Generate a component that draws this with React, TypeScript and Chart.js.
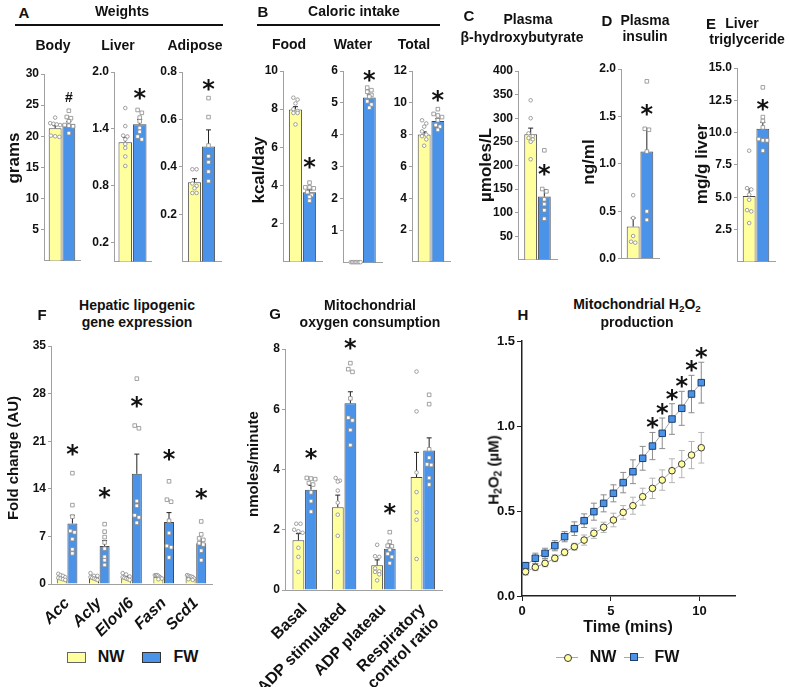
import React, { useEffect, useRef } from 'react';
import { Chart, registerables } from 'chart.js';

Chart.register(...registerables);

const FONT = '"Liberation Sans", Arial, Helvetica, sans-serif';
const STAR_FONT = '"DejaVu Sans", "Liberation Sans", sans-serif';
const NW_FILL = '#FFFF9E';
const FW_FILL = '#4A93E8';
const BAR_EDGE = '#4a4a4a';
const AXIS = '#a0a0a0';
const INK = '#111111';

// ---------------- Data ----------------
const seriesNames = ['NW', 'FW'];

// A – Weights
const bodyCats = ['Body'];
const bodyNW = [21.3];
const bodyFW = [22.0];
const bodySemNW = [0.4];
const bodySemFW = [0.35];
const bodyPtsNW = [[23.0, 22.1, 22.0, 21.9, 20.0, 20.1, 19.9, 21.8]];
const bodyPtsFW = [[24.1, 23.1, 22.9, 22.4, 21.7, 21.6, 21.8, 20.5]];
const bodyMark = [26.3];
const bodyTicks = [5, 10, 15, 20, 25, 30];

const liverCats = ['Liver'];
const liverNW = [1.26];
const liverFW = [1.45];
const liverSemNW = [0.05];
const liverSemFW = [0.05];
const liverPtsNW = [[1.62, 1.43, 1.33, 1.32, 1.29, 1.24, 1.2, 1.11, 1.01]];
const liverPtsFW = [[1.6, 1.57, 1.52, 1.48, 1.41, 1.37, 1.32, 1.29]];
const liverMark = [1.77];
const liverTicks = [0.2, 0.8, 1.4, 2.0];

const adiposeCats = ['Adipose'];
const adiposeNW = [0.335];
const adiposeFW = [0.486];
const adiposeSemNW = [0.015];
const adiposeSemFW = [0.07];
const adiposePtsNW = [[0.39, 0.39, 0.33, 0.32, 0.31, 0.29, 0.29]];
const adiposePtsFW = [[0.69, 0.61, 0.49, 0.445, 0.42, 0.38, 0.34]];
const adiposeMark = [0.745];
const adiposeTicks = [0.2, 0.4, 0.6, 0.8];

// B – Caloric intake
const foodCats = ['Food'];
const foodNW = [7.98];
const foodFW = [3.65];
const foodSemNW = [0.15];
const foodSemFW = [0.12];
const foodPtsNW = [[8.6, 8.5, 8.3, 8.0, 7.8, 7.8, 7.9, 7.2]];
const foodPtsFW = [[4.15, 3.9, 3.9, 3.85, 3.65, 3.5, 3.4, 3.2]];
const foodMark = [5.2];
const foodTicks = [2, 4, 6, 8, 10];

const waterCats = ['Water'];
const waterNW = [0.02];
const waterFW = [5.17];
const waterSemNW = [0];
const waterSemFW = [0.08];
const waterPtsNW = [[0.02, 0.02, 0.02, 0.02, 0.02, 0.02, 0.02, 0.02]];
const waterPtsFW = [[5.48, 5.4, 5.35, 5.25, 5.2, 5.05, 4.95, 4.85]];
const waterMark = [5.84];
const waterTicks = [1, 2, 3, 4, 5, 6];

const totalCats = ['Total'];
const totalNW = [8.0];
const totalFW = [8.85];
const totalSemNW = [0.17];
const totalSemFW = [0.15];
const totalPtsNW = [[8.9, 8.7, 8.5, 8.2, 8.0, 7.9, 7.7, 7.3]];
const totalPtsFW = [[9.6, 9.3, 9.2, 9.1, 8.9, 8.6, 8.5, 8.3]];
const totalMark = [10.4];
const totalTicks = [2, 4, 6, 8, 10, 12];

// C – Plasma beta-hydroxybutyrate
const bhbCats = ['BHB'];
const bhbNW = [266];
const bhbFW = [134];
const bhbSemNW = [13];
const bhbSemFW = [15];
const bhbPtsNW = [[338, 300, 268, 262, 258, 255, 250, 213]];
const bhbPtsFW = [[232, 150, 145, 128, 118, 105, 87]];
const bhbMark = [191];
const bhbTicks = [50, 100, 150, 200, 250, 300, 350, 400];

// D – Plasma insulin
const insCats = ['Insulin'];
const insNW = [0.34];
const insFW = [1.13];
const insSemNW = [0.09];
const insSemFW = [0.24];
const insPtsNW = [[0.67, 0.43, 0.24, 0.18, 0.17]];
const insPtsFW = [[1.87, 1.37, 1.36, 1.13, 0.5, 0.41]];
const insMark = [1.57];
const insTicks = [0, 0.5, 1.0, 1.5, 2.0];

// E – Liver triglyceride
const tgCats = ['TG'];
const tgNW = [5.1];
const tgFW = [10.3];
const tgSemNW = [0.55];
const tgSemFW = [0.5];
const tgPtsNW = [[8.6, 5.7, 5.6, 5.2, 4.8, 4.0, 3.9, 3.0]];
const tgPtsFW = [[13.5, 11.2, 10.9, 10.4, 9.5, 9.4, 9.4, 8.6]];
const tgMark = [12.15];
const tgTicks = [2.5, 5.0, 7.5, 10.0, 12.5, 15.0];

// F – Hepatic lipogenic gene expression
const fCats = ['Acc', 'Acly', 'Elovl6', 'Fasn', 'Scd1'];
const fNW = [1.0, 1.0, 1.0, 1.05, 1.0];
const fFW = [8.9, 5.6, 16.2, 9.1, 6.0];
const fSemNW = [0.12, 0.15, 0.12, 0.1, 0.1];
const fSemFW = [1.2, 0.8, 2.9, 1.4, 0.6];
const fPtsNW = [
  [1.5, 1.2, 1.0, 0.9, 0.8, 0.7, 1.3, 0.6],
  [1.6, 1.2, 1.0, 0.8, 0.7, 0.6, 0.9, 1.2],
  [1.6, 1.4, 1.1, 0.9, 0.7, 0.6, 1.0, 0.8],
  [1.3, 1.3, 1.2, 1.0, 0.9, 0.8, 0.7, 1.3],
  [1.3, 1.2, 1.1, 1.0, 0.8, 0.7, 0.6, 1.1],
];
const fPtsFW = [
  [16.3, 11.6, 9.9, 7.8, 7.6, 6.6, 5.1, 4.5],
  [8.8, 7.7, 6.9, 6.1, 5.2, 4.0, 2.8, 3.5],
  [30.2, 23.3, 22.9, 12.2, 11.5, 10.1, 9.8, 9.0],
  [15.1, 12.4, 12.1, 9.3, 7.5, 5.6, 5.4, 3.9],
  [9.2, 7.3, 6.7, 6.5, 6.0, 5.8, 4.9, 3.5],
];
const fMarks = [19.7, 13.4, 26.8, 19.0, 13.2];
const fTicks = [0, 7, 14, 21, 28, 35];

// G – Mitochondrial oxygen consumption
const gCats: (string | string[])[] = ['Basal', 'ADP stimulated', 'ADP plateau', ['Respiratory', 'control ratio']];
const gNW = [1.65, 2.75, 0.82, 3.75];
const gFW = [3.33, 6.2, 1.37, 4.63];
const gSemNW = [0.22, 0.4, 0.18, 0.82];
const gSemFW = [0.14, 0.38, 0.12, 0.42];
const gPtsNW = [
  [2.2, 2.2, 2.0, 1.95, 1.9, 1.4, 1.1, 0.6],
  [3.72, 3.63, 3.6, 3.3, 2.9, 2.5, 1.8, 0.6],
  [1.5, 1.12, 1.1, 0.72, 0.62, 0.6, 0.52, 0.32],
  [7.25, 5.93, 3.9, 3.25, 2.58, 2.33, 1.03],
];
const gPtsFW = [
  [3.72, 3.7, 3.68, 3.55, 3.5, 3.24, 2.95, 2.6],
  [7.53, 7.33, 7.24, 6.36, 5.72, 5.63, 5.31, 4.81],
  [1.92, 1.6, 1.47, 1.45, 1.33, 1.2, 0.89, 1.1],
  [6.48, 6.17, 4.67, 4.39, 4.17, 4.15, 3.72, 3.5],
];
const gMarks: (number | null)[] = [4.5, 8.17, 2.7, null];
const gTicks = [0, 2, 4, 6, 8];

// H – Mitochondrial H2O2 production
const hTime = [0.2, 0.75, 1.3, 1.85, 2.4, 2.95, 3.5, 4.05, 4.6, 5.15, 5.7, 6.25, 6.8, 7.35, 7.9, 8.45, 9.0, 9.55, 10.1];
const hNW = [0.143, 0.169, 0.192, 0.222, 0.257, 0.29, 0.329, 0.369, 0.404, 0.447, 0.492, 0.531, 0.584, 0.633, 0.682, 0.737, 0.776, 0.829, 0.872];
const hFW = [0.178, 0.222, 0.251, 0.296, 0.349, 0.396, 0.443, 0.496, 0.545, 0.604, 0.667, 0.731, 0.81, 0.882, 0.957, 1.041, 1.104, 1.188, 1.255];
const hSemNW = [0.02, 0.02, 0.02, 0.02, 0.02, 0.02, 0.03, 0.03, 0.03, 0.04, 0.04, 0.05, 0.05, 0.06, 0.06, 0.07, 0.08, 0.08, 0.09];
const hSemFW = [0.02, 0.03, 0.03, 0.03, 0.03, 0.04, 0.04, 0.05, 0.05, 0.05, 0.06, 0.07, 0.07, 0.08, 0.09, 0.09, 0.1, 0.11, 0.12];
const hStarIdx = [13, 14, 15, 16, 17, 18];
const hXTicks = [0, 5, 10];
const hYTicks = [0, 0.5, 1.0, 1.5];

// ---------------- Panel configs ----------------
type Panel = {
  area: [number, number, number, number]; // left, top, right, bottom (page px of plot area)
  yMax: number;
  ticks: number[];
  dec: number;
  cats: (string | string[])[];
  nw: number[];
  fw: number[];
  semNW: number[];
  semFW: number[];
  ptsNW: number[][];
  ptsFW: number[][];
  marks: (number | null)[];
  markText: string;
  catPct: number;
  xLabels?: { size: number; italic: boolean; height: number };
};

const panels: Panel[] = [
  { area: [44, 74, 80, 262], yMax: 30, ticks: bodyTicks, dec: 0, cats: bodyCats, nw: bodyNW, fw: bodyFW, semNW: bodySemNW, semFW: bodySemFW, ptsNW: bodyPtsNW, ptsFW: bodyPtsFW, marks: bodyMark, markText: '#', catPct: 0.76 },
  { area: [114, 72, 151, 263], yMax: 2.0, ticks: liverTicks, dec: 1, cats: liverCats, nw: liverNW, fw: liverFW, semNW: liverSemNW, semFW: liverSemFW, ptsNW: liverPtsNW, ptsFW: liverPtsFW, marks: liverMark, markText: '*', catPct: 0.78 },
  { area: [182, 72, 221, 263], yMax: 0.8, ticks: adiposeTicks, dec: 1, cats: adiposeCats, nw: adiposeNW, fw: adiposeFW, semNW: adiposeSemNW, semFW: adiposeSemFW, ptsNW: adiposePtsNW, ptsFW: adiposePtsFW, marks: adiposeMark, markText: '*', catPct: 0.72 },
  { area: [283, 71, 322, 263], yMax: 10, ticks: foodTicks, dec: 0, cats: foodCats, nw: foodNW, fw: foodFW, semNW: foodSemNW, semFW: foodSemFW, ptsNW: foodPtsNW, ptsFW: foodPtsFW, marks: foodMark, markText: '*', catPct: 0.72 },
  { area: [343, 71, 382, 264], yMax: 6, ticks: waterTicks, dec: 0, cats: waterCats, nw: waterNW, fw: waterFW, semNW: waterSemNW, semFW: waterSemFW, ptsNW: waterPtsNW, ptsFW: waterPtsFW, marks: waterMark, markText: '*', catPct: 0.7 },
  { area: [412, 71, 450, 263], yMax: 12, ticks: totalTicks, dec: 0, cats: totalCats, nw: totalNW, fw: totalFW, semNW: totalSemNW, semFW: totalSemFW, ptsNW: totalPtsNW, ptsFW: totalPtsFW, marks: totalMark, markText: '*', catPct: 0.72 },
  { area: [518, 71, 557, 261], yMax: 400, ticks: bhbTicks, dec: 0, cats: bhbCats, nw: bhbNW, fw: bhbFW, semNW: bhbSemNW, semFW: bhbSemFW, ptsNW: bhbPtsNW, ptsFW: bhbPtsFW, marks: bhbMark, markText: '*', catPct: 0.7 },
  { area: [621, 69, 659, 260], yMax: 2.0, ticks: insTicks, dec: 1, cats: insCats, nw: insNW, fw: insFW, semNW: insSemNW, semFW: insSemFW, ptsNW: insPtsNW, ptsFW: insPtsFW, marks: insMark, markText: '*', catPct: 0.72 },
  { area: [737, 68, 775, 263], yMax: 15, ticks: tgTicks, dec: 1, cats: tgCats, nw: tgNW, fw: tgFW, semNW: tgSemNW, semFW: tgSemFW, ptsNW: tgPtsNW, ptsFW: tgPtsFW, marks: tgMark, markText: '*', catPct: 0.72 },
  { area: [51, 346, 212, 584], yMax: 35, ticks: fTicks, dec: 0, cats: fCats, nw: fNW, fw: fFW, semNW: fSemNW, semFW: fSemFW, ptsNW: fPtsNW, ptsFW: fPtsFW, marks: fMarks, markText: '*', catPct: 0.66, xLabels: { size: 16, italic: true, height: 60 } },
  { area: [285, 349, 445, 590], yMax: 8, ticks: gTicks, dec: 0, cats: gCats, nw: gNW, fw: gFW, semNW: gSemNW, semFW: gSemFW, ptsNW: gPtsNW, ptsFW: gPtsFW, marks: gMarks, markText: '*', catPct: 0.64, xLabels: { size: 16, italic: false, height: 97 } },
];

// ---------------- Drawing helpers ----------------
function drawMark(ctx: CanvasRenderingContext2D, text: string, x: number, cy: number) {
  ctx.save();
  ctx.fillStyle = INK;
  ctx.textAlign = 'center';
  ctx.textBaseline = 'alphabetic';
  ctx.font = text === '*' ? `bold 24px ${STAR_FONT}` : `bold 14px ${FONT}`;
  const m = ctx.measureText(text);
  const asc = m.actualBoundingBoxAscent;
  const desc = m.actualBoundingBoxDescent;
  ctx.fillText(text, x, cy + (asc - desc) / 2);
  ctx.restore();
}

function drawSwarm(ctx: CanvasRenderingContext2D, cx: number, pys: number[], square: boolean, maxW: number) {
  const sorted = [...pys].sort((a, b) => a - b);
  const rows: number[][] = [];
  for (const py of sorted) {
    const row = rows[rows.length - 1];
    if (row && py - row[0] < 3.4) row.push(py);
    else rows.push([py]);
  }
  ctx.save();
  ctx.fillStyle = '#ffffff';
  ctx.strokeStyle = '#8a8a8a';
  ctx.lineWidth = 0.8;
  for (const row of rows) {
    const n = row.length;
    const step = n > 1 ? Math.min(4.2, maxW / (n - 1)) : 0;
    row.forEach((py, k) => {
      const px = cx + (k - (n - 1) / 2) * step;
      ctx.beginPath();
      if (square) ctx.rect(px - 1.8, py - 1.8, 3.6, 3.6);
      else ctx.arc(px, py, 1.8, 0, Math.PI * 2);
      ctx.fill();
      ctx.stroke();
    });
  }
  ctx.restore();
}

const tickFont = { family: FONT, size: 12, weight: 'bold' as const };

function BarPanelChart({ p }: { p: Panel }) {
  const ref = useRef<HTMLCanvasElement>(null);
  const [l, t, r, b] = p.area;
  const yW = 40;
  const padT = 12;
  const padR = 8;
  const xH = p.xLabels ? p.xLabels.height : 8;
  const W = yW + (r - l) + padR;
  const H = padT + (b - t) + xH;

  useEffect(() => {
    const overlay = {
      id: 'overlay',
      afterDatasetsDraw(chart: any) {
        const ctx: CanvasRenderingContext2D = chart.ctx;
        const ys = chart.scales.y;
        [0, 1].forEach((s) => {
          const meta = chart.getDatasetMeta(s);
          meta.data.forEach((bar: any, i: number) => {
            const mean = s ? p.fw[i] : p.nw[i];
            const sem = s ? p.semFW[i] : p.semNW[i];
            const x = bar.x;
            if (sem > 0) {
              const y0 = ys.getPixelForValue(mean);
              const y1 = ys.getPixelForValue(mean + sem);
              ctx.save();
              ctx.strokeStyle = '#222';
              ctx.lineWidth = 1;
              ctx.beginPath();
              ctx.moveTo(x, y0);
              ctx.lineTo(x, y1);
              ctx.moveTo(x - 2.5, y1);
              ctx.lineTo(x + 2.5, y1);
              ctx.stroke();
              ctx.restore();
            }
            const pts = (s ? p.ptsFW : p.ptsNW)[i];
            drawSwarm(ctx, x, pts.map((v) => ys.getPixelForValue(v)), s === 1, Math.max(bar.width - 3, 4));
          });
        });
        const fwMeta = chart.getDatasetMeta(1);
        p.marks.forEach((mv, i) => {
          if (mv == null) return;
          drawMark(ctx, p.markText, fwMeta.data[i].x, ys.getPixelForValue(mv));
        });
      },
    };

    const chart = new Chart(ref.current as HTMLCanvasElement, {
      type: 'bar',
      data: {
        labels: p.cats as any,
        datasets: [
          { label: seriesNames[0], data: p.nw, backgroundColor: NW_FILL, borderColor: BAR_EDGE, borderWidth: 1, barPercentage: 0.94, categoryPercentage: p.catPct },
          { label: seriesNames[1], data: p.fw, backgroundColor: FW_FILL, borderColor: BAR_EDGE, borderWidth: 1, barPercentage: 0.94, categoryPercentage: p.catPct },
        ],
      },
      options: {
        animation: false,
        responsive: false,
        events: [],
        layout: { padding: { left: 0, right: padR, top: padT, bottom: 0 } },
        plugins: { legend: { display: false }, tooltip: { enabled: false } },
        scales: {
          x: {
            offset: true,
            grid: { display: false },
            border: { display: true, color: AXIS, width: 1 },
            ticks: p.xLabels
              ? {
                  display: true,
                  autoSkip: false,
                  minRotation: 45,
                  maxRotation: 45,
                  padding: 2,
                  color: INK,
                  font: { family: FONT, size: p.xLabels.size, weight: 'bold', style: p.xLabels.italic ? 'italic' : 'normal' },
                }
              : { display: false },
            afterFit: (s: any) => {
              s.height = xH;
            },
          },
          y: {
            min: 0,
            max: p.yMax,
            afterBuildTicks: (s: any) => {
              s.ticks = p.ticks.map((v) => ({ value: v }));
            },
            ticks: {
              color: INK,
              font: tickFont,
              padding: 2,
              callback: (v: any) => Number(v).toFixed(p.dec),
            },
            grid: { display: true, drawOnChartArea: false, drawTicks: true, tickLength: 3, color: AXIS },
            border: { display: true, color: AXIS, width: 1 },
            afterFit: (s: any) => {
              s.width = yW;
            },
          },
        },
      } as any,
      plugins: [overlay],
    });
    return () => chart.destroy();
  }, []);

  return (
    <canvas
      ref={ref}
      width={W}
      height={H}
      style={{ position: 'absolute', left: l - yW, top: t - padT, width: W, height: H }}
    />
  );
}

function H2O2Chart() {
  const ref = useRef<HTMLCanvasElement>(null);
  const [l, t, r, b] = [522, 341, 735, 596];
  const yW = 40;
  const padT = 12;
  const padR = 10;
  const xH = 28;
  const W = yW + (r - l) + padR;
  const H = padT + (b - t) + xH;

  useEffect(() => {
    const errPlugin = {
      id: 'herr',
      beforeDatasetsDraw(chart: any) {
        const ctx: CanvasRenderingContext2D = chart.ctx;
        const xs = chart.scales.x;
        const ys = chart.scales.y;
        const draw = (vals: number[], sems: number[], color: string) => {
          ctx.save();
          ctx.strokeStyle = color;
          ctx.lineWidth = 1;
          vals.forEach((v, i) => {
            const x = xs.getPixelForValue(hTime[i]);
            const y1 = ys.getPixelForValue(v - sems[i]);
            const y2 = ys.getPixelForValue(v + sems[i]);
            ctx.beginPath();
            ctx.moveTo(x, y1);
            ctx.lineTo(x, y2);
            ctx.moveTo(x - 3, y1);
            ctx.lineTo(x + 3, y1);
            ctx.moveTo(x - 3, y2);
            ctx.lineTo(x + 3, y2);
            ctx.stroke();
          });
          ctx.restore();
        };
        draw(hNW, hSemNW, '#b5b5b5');
        draw(hFW, hSemFW, '#8c8c8c');
      },
      afterDatasetsDraw(chart: any) {
        const ctx: CanvasRenderingContext2D = chart.ctx;
        const xs = chart.scales.x;
        const ys = chart.scales.y;
        hStarIdx.forEach((i) => {
          const x = xs.getPixelForValue(hTime[i]);
          const y = ys.getPixelForValue(hFW[i] + hSemFW[i]) - 9;
          drawMark(ctx, '*', x, y);
        });
      },
    };

    const chart = new Chart(ref.current as HTMLCanvasElement, {
      type: 'line',
      data: {
        datasets: [
          {
            label: seriesNames[0],
            data: hTime.map((x, i) => ({ x, y: hNW[i] })),
            borderColor: '#a5a5a5',
            borderWidth: 1,
            pointStyle: 'circle',
            pointRadius: 3.3,
            pointBackgroundColor: NW_FILL,
            pointBorderColor: '#3a3a3a',
            pointBorderWidth: 1,
          },
          {
            label: seriesNames[1],
            data: hTime.map((x, i) => ({ x, y: hFW[i] })),
            borderColor: '#a5a5a5',
            borderWidth: 1,
            pointStyle: 'rect',
            pointRadius: 4.6,
            pointBackgroundColor: FW_FILL,
            pointBorderColor: '#1f3f66',
            pointBorderWidth: 1,
          },
        ],
      },
      options: {
        animation: false,
        responsive: false,
        events: [],
        layout: { padding: { left: 0, right: padR, top: padT, bottom: 0 } },
        plugins: { legend: { display: false }, tooltip: { enabled: false } },
        scales: {
          x: {
            type: 'linear',
            min: 0,
            max: 12,
            afterBuildTicks: (s: any) => {
              s.ticks = hXTicks.map((v) => ({ value: v }));
            },
            ticks: { color: INK, font: { family: FONT, size: 13, weight: 'bold' }, padding: 3 },
            grid: { display: true, drawOnChartArea: false, drawTicks: true, tickLength: 5, color: '#222' },
            border: { display: true, color: '#222', width: 1.5 },
            afterFit: (s: any) => {
              s.height = xH;
            },
          },
          y: {
            min: 0,
            max: 1.5,
            afterBuildTicks: (s: any) => {
              s.ticks = hYTicks.map((v) => ({ value: v }));
            },
            ticks: { color: INK, font: { family: FONT, size: 13, weight: 'bold' }, padding: 2, callback: (v: any) => Number(v).toFixed(1) },
            grid: { display: true, drawOnChartArea: false, drawTicks: true, tickLength: 5, color: '#222' },
            border: { display: true, color: '#222', width: 1.5 },
            afterFit: (s: any) => {
              s.width = yW;
            },
          },
        },
      } as any,
      plugins: [errPlugin],
    });
    return () => chart.destroy();
  }, []);

  return (
    <canvas
      ref={ref}
      width={W}
      height={H}
      style={{ position: 'absolute', left: l - yW, top: t - padT, width: W, height: H }}
    />
  );
}

// ---------------- Text helpers ----------------
function T({ x, y, s = 14, rot = false, children }: { x: number; y: number; s?: number; rot?: boolean; children: React.ReactNode }) {
  return (
    <div
      style={{
        position: 'absolute',
        left: x,
        top: y,
        transform: `translate(-50%, -50%)${rot ? ' rotate(-90deg)' : ''}`,
        fontSize: s,
        fontWeight: 'bold',
        whiteSpace: 'nowrap',
        lineHeight: 1,
        color: INK,
      }}
    >
      {children}
    </div>
  );
}

const sub: React.CSSProperties = { fontSize: '0.7em', position: 'relative', top: '0.3em' };

export default function App() {
  return (
    <div
      style={{
        position: 'absolute',
        left: 0,
        top: 0,
        width: 789,
        height: 687,
        overflow: 'hidden',
        background: '#ffffff',
        fontFamily: FONT,
      }}
    >
      {panels.map((p, i) => (
        <BarPanelChart key={i} p={p} />
      ))}
      <H2O2Chart />

      {/* A */}
      <T x={24} y={12} s={15}>A</T>
      <T x={122} y={11}>Weights</T>
      <div style={{ position: 'absolute', left: 15, top: 24, width: 208, height: 2, background: INK }} />
      <T x={53} y={45}>Body</T>
      <T x={118} y={45}>Liver</T>
      <T x={195} y={45}>Adipose</T>
      <T x={13} y={158} s={17} rot>grams</T>

      {/* B */}
      <T x={263} y={11} s={15}>B</T>
      <T x={354} y={11}>Caloric intake</T>
      <div style={{ position: 'absolute', left: 257, top: 24, width: 183, height: 2, background: INK }} />
      <T x={289} y={44}>Food</T>
      <T x={353} y={44}>Water</T>
      <T x={414} y={44}>Total</T>
      <T x={258} y={170} s={17} rot>kcal/day</T>

      {/* C */}
      <T x={469} y={15} s={15}>C</T>
      <T x={528} y={19}>Plasma</T>
      <T x={522} y={37}>β-hydroxybutyrate</T>
      <T x={485} y={165} s={17} rot>µmoles/L</T>

      {/* D */}
      <T x={607} y={20} s={15}>D</T>
      <T x={645} y={20}>Plasma</T>
      <T x={645} y={36}>insulin</T>
      <T x={588} y={162} s={17} rot>ng/ml</T>

      {/* E */}
      <T x={711} y={23} s={15}>E</T>
      <T x={742} y={23}>Liver</T>
      <T x={747} y={39}>triglyceride</T>
      <T x={701} y={164} s={17} rot>mg/g liver</T>

      {/* F */}
      <T x={42} y={314} s={15}>F</T>
      <T x={137} y={305}>Hepatic lipogenic</T>
      <T x={137} y={322}>gene expression</T>
      <T x={12} y={458} s={15} rot>Fold change (AU)</T>

      {/* G */}
      <T x={275} y={313} s={15}>G</T>
      <T x={370} y={305}>Mitochondrial</T>
      <T x={370} y={322}>oxygen consumption</T>
      <T x={252} y={464} s={15} rot>nmoles/minute</T>

      {/* H */}
      <T x={523} y={314} s={15}>H</T>
      <T x={637} y={304}>
        Mitochondrial H<span style={sub}>2</span>O<span style={sub}>2</span>
      </T>
      <T x={637} y={322}>production</T>
      <T x={493} y={470} s={15} rot>
        H<span style={sub}>2</span>O<span style={sub}>2</span> (µM)
      </T>
      <T x={628} y={627} s={16}>Time (mins)</T>

      {/* Legend F */}
      <div style={{ position: 'absolute', left: 67, top: 652, width: 17, height: 9, background: NW_FILL, border: '1px solid #666' }} />
      <T x={111} y={657} s={16}>NW</T>
      <div style={{ position: 'absolute', left: 142, top: 652, width: 17, height: 9, background: FW_FILL, border: '1px solid #333' }} />
      <T x={186} y={657} s={16}>FW</T>

      {/* Legend H */}
      <div style={{ position: 'absolute', left: 556, top: 657, width: 22, height: 1, background: '#aaa' }} />
      <div style={{ position: 'absolute', left: 563.5, top: 653.5, width: 6, height: 6, borderRadius: '50%', background: NW_FILL, border: '1px solid #3a3a3a' }} />
      <T x={603} y={657} s={16}>NW</T>
      <div style={{ position: 'absolute', left: 624, top: 657, width: 20, height: 1, background: '#aaa' }} />
      <div style={{ position: 'absolute', left: 629.5, top: 653, width: 6, height: 6, background: FW_FILL, border: '1px solid #1f3f66' }} />
      <T x={667} y={657} s={16}>FW</T>
    </div>
  );
}
